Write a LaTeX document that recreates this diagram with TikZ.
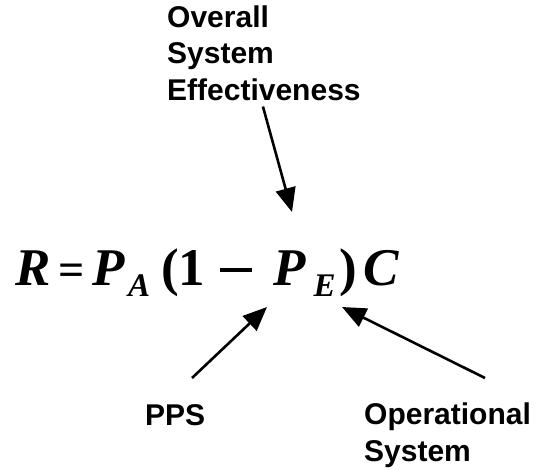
\documentclass[tikz,border=0pt]{standalone}
\usepackage{fontspec}
\setmainfont{Liberation Sans}
\newfontfamily\eqfont{Liberation Serif}
\usetikzlibrary{arrows.meta}

% italic pieces, subscripts, equals sign and minus bar of the formula
\newcommand{\eqit}[1]{{\itshape #1}}
\newcommand{\eqsub}[1]{\raisebox{-11pt}{\fontsize{33}{33}\selectfont\itshape #1}}
\newcommand{\eqequals}{{\fontsize{46}{50}\selectfont=}}
\newcommand{\eqminus}{\rule[13pt]{32pt}{3.6pt}}

\begin{document}
\begin{tikzpicture}[x=1pt, y=-1pt,
  caption/.style={font=\fontsize{30}{36.5}\selectfont\bfseries, align=left,
                  inner sep=0pt, anchor=base west},
  pointer/.style={line width=2.6pt, -{Triangle[length=24pt, width=20pt]}},
]
\useasboundingbox[fill=white] (0,0) rectangle (538,469);

% the formula
\node[inner sep=0pt, anchor=base west] (eq) at (15,285)
  {\eqfont\fontsize{53}{60}\selectfont\bfseries
   \eqit{R}\kern8pt\eqequals\kern8pt\eqit{P}\kern3pt\eqsub{A}\kern11pt(1\kern15pt\eqminus\kern21pt\eqit{P}\kern8pt\eqsub{E}\kern4pt)\kern6pt\eqit{C}};

% labels (base anchor sits on the last line)
\node[caption] (ose) at (167,100) {Overall\\System\\Effectiveness};
\node[caption] (pps) at (145,425) {PPS};
\node[caption] (ops) at (364,461) {Operational\\System};

% ends of the pointers
\coordinate (oseTip) at (292,212);
\coordinate (ppsTail) at (192,378);
\coordinate (ppsTip) at (267,307);
\coordinate (opsTail) at (485,378);
\coordinate (opsTip) at (342,307);

\draw[pointer] ([xshift=-1pt, yshift=-6pt]ose.south) -- (oseTip);
\draw[pointer] (ppsTail) -- (ppsTip);
\draw[pointer] (opsTail) -- (opsTip);
\end{tikzpicture}
\end{document}
